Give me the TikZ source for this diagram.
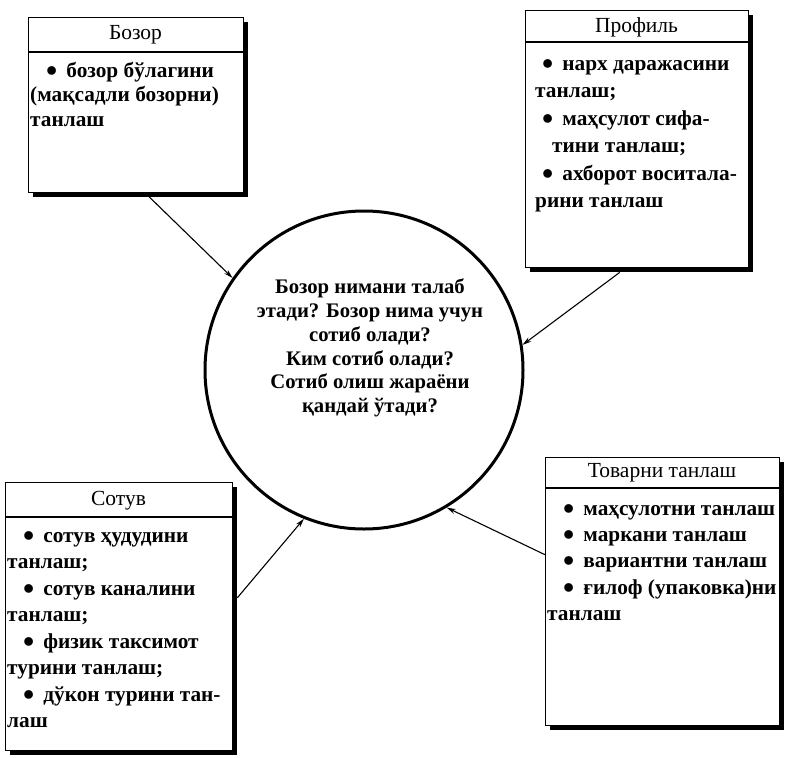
\documentclass[tikz,border=0pt]{standalone}
\usepackage{fontspec}
\setmainfont{Liberation Serif}
\usetikzlibrary{arrows.meta,shadows}

\tikzset{
  panel/.style={draw, line width=1.4pt, fill=white, rectangle, inner sep=0pt, anchor=north west,
    drop shadow={shadow xshift=4.5pt, shadow yshift=-4.5pt, fill=black, opacity=1}},
  divider/.style={line width=1.4pt},
  heading/.style={font=\fontsize{21.5}{24}\selectfont, inner sep=0pt},
  bodytext/.style={font=\bfseries\fontsize{21.3}{#1}\selectfont, align=left, inner sep=0pt, anchor=north west},
  bodytext/.default=26.5,
  link/.style={line width=1.1pt, -{Stealth[length=9pt,width=5pt]}},
}
% bullet item opener: indent, enlarged bullet, gap
\newcommand{\bul}[1][16pt]{\hspace*{#1}\smash{\raisebox{-0.42ex}{\scalebox{1.5}{\textbullet}}}\hspace*{9pt}}
% fixed top for the first line of a body block
\newcommand{\firstline}{\rule{0pt}{16pt}}

\begin{document}
\begin{tikzpicture}[x=1pt,y=-1pt]
\useasboundingbox (0,0) rectangle (785,758);

% central question circle
\node[circle, draw, line width=3pt, minimum size=318pt, inner sep=0pt] (hub) at (364,370) {};
\node[font=\bfseries\fontsize{20.7}{23.7}\selectfont, align=center, inner sep=0pt] (question) at (370,348)
  {Бозор нимани талаб\\этади? Бозор нима учун\\сотиб олади?\\Ким сотиб олади?\\Сотиб олиш жараёни\\қандай ўтади?};

% market panel
\node[panel, minimum width=215pt, minimum height=175pt] (bozor) at (28,17) {};
\draw[divider] ([yshift=-35pt]bozor.north west) -- ([yshift=-35pt]bozor.north east);
\node[heading] (bozorT) at (135.5,35) {Бозор};
\node[bodytext=24.5] (bozorB) at (30,61)
  {\firstline\bul бозор бўлагини\\(мақсадли бозорни)\\танлаш};

% profile panel
\node[panel, minimum width=223pt, minimum height=257pt] (profil) at (525,10) {};
\draw[divider] ([yshift=-32pt]profil.north west) -- ([yshift=-32pt]profil.north east);
\node[heading] (profilT) at (636.5,27) {Профиль};
\node[bodytext=27.5] (profilB) at (535,54)
  {\firstline\bul[7pt]нарх даражасини\\танлаш;\\\bul[7pt]маҳсулот сифа-\\\hspace*{17pt}тини танлаш;\\\bul[7pt]ахборот воситала-\\рини танлаш};

% sales panel
\node[panel, minimum width=227pt, minimum height=268pt] (sotuv) at (5,482) {};
\draw[divider] ([yshift=-35pt]sotuv.north west) -- ([yshift=-35pt]sotuv.north east);
\node[heading] (sotuvT) at (118.5,501) {Сотув};
\node[bodytext=26.5] (sotuvB) at (7,526)
  {\firstline\bul сотув ҳудудини\\танлаш;\\\bul сотув каналини\\танлаш;\\\bul физик таксимот\\турини танлаш;\\\bul дўкон турини тан-\\лаш};

% goods panel
\node[panel, minimum width=234pt, minimum height=268pt] (tovar) at (545,457) {};
\draw[divider] ([yshift=-31pt]tovar.north west) -- ([yshift=-31pt]tovar.north east);
\node[heading] (tovarT) at (662,473) {Товарни танлаш};
\node[bodytext=26.3] (tovarB) at (547,499)
  {\firstline\bul маҳсулотни танлаш\\\bul маркани танлаш\\\bul вариантни танлаш\\\bul ғилоф (упаковка)ни\\танлаш};

% connectors into the circle
\draw[link] ([xshift=12.5pt,yshift=-3pt]bozor.south) -- (hub.145);
\draw[link] ([xshift=-17.5pt,yshift=-4pt]profil.south) -- (hub.9.6);
\draw[link] ([xshift=4pt,yshift=19pt]sotuv.east) -- (hub.248);
\draw[link] ([yshift=37pt]tovar.west) -- (hub.301.5);
\end{tikzpicture}
\end{document}
